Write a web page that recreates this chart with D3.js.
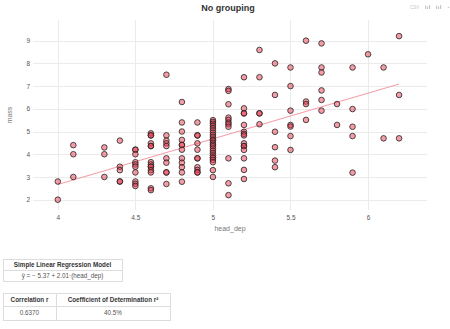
<!DOCTYPE html>
<html>
<head>
<meta charset="utf-8">
<script src="https://cdn.jsdelivr.net/npm/d3@7/dist/d3.min.js"></script>
<style>
  html, body { margin: 0; padding: 0; background: #fff; }
  svg { display: block; font-family: "Liberation Sans", Arial, sans-serif; }
</style>
</head>
<body>
<svg id="chart" width="450" height="329"></svg>
<script>
// Observations: head_dep (x) with the measured values at each x
const headDep = [
  4.0, 4.0,
  4.1, 4.1, 4.1,
  4.3, 4.3, 4.3,
  4.4, 4.4, 4.4, 4.4, 4.4,
  4.5, 4.5, 4.5, 4.5, 4.5, 4.5, 4.5, 4.5, 4.5, 4.5,
  4.6, 4.6, 4.6, 4.6, 4.6, 4.6, 4.6, 4.6, 4.6, 4.6, 4.6, 4.6, 4.6, 4.6,
  4.7, 4.7, 4.7, 4.7, 4.7, 4.7, 4.7, 4.7, 4.7, 4.7,
  4.8, 4.8, 4.8, 4.8, 4.8, 4.8, 4.8, 4.8, 4.8, 4.8, 4.8, 4.8,
  4.9, 4.9, 4.9, 4.9, 4.9, 4.9, 4.9, 4.9, 4.9, 4.9, 4.9,
  5.0, 5.0, 5.0, 5.0, 5.0, 5.0, 5.0, 5.0, 5.0, 5.0, 5.0, 5.0, 5.0, 5.0, 5.0, 5.0, 5.0, 5.0, 5.0, 5.0, 5.0, 5.0, 5.0, 5.0,
  5.1, 5.1, 5.1, 5.1, 5.1, 5.1, 5.1, 5.1, 5.1, 5.1, 5.1,
  5.2, 5.2, 5.2, 5.2, 5.2, 5.2, 5.2, 5.2, 5.2, 5.2, 5.2, 5.2, 5.2, 5.2, 5.2,
  5.3, 5.3, 5.3, 5.3, 5.3,
  5.4, 5.4, 5.4, 5.4, 5.4, 5.4,
  5.5, 5.5, 5.5, 5.5, 5.5, 5.5, 5.5,
  5.6, 5.6, 5.6, 5.6,
  5.7, 5.7, 5.7, 5.7, 5.7, 5.7,
  5.8, 5.8,
  5.9, 5.9, 5.9, 5.9, 5.9,
  6.0,
  6.1, 6.1,
  6.2, 6.2, 6.2
];
const response = [
  2.8, 2.0,
  4.4, 4.0, 3.0,
  4.3, 4.0, 3.0,
  4.6, 3.45, 3.3, 2.8, 2.8,
  4.2, 4.2, 4.0, 3.65, 3.55, 3.45, 3.2, 2.8, 2.7, 2.6,
  4.92, 4.83, 4.83, 4.48, 4.36, 4.36, 3.65, 3.55, 3.45, 3.45, 3.3, 3.2, 2.5, 2.42,
  7.5, 4.83, 4.6, 4.48, 4.36, 3.82, 3.63, 3.2, 3.2, 2.69,
  6.3, 5.4, 5.0, 4.63, 4.41, 4.41, 4.2, 3.82, 3.63, 3.43, 3.2, 2.79,
  5.4, 4.83, 4.83, 4.48, 4.2, 3.82, 3.82, 3.43, 3.31, 3.2, 3.2,
  5.5, 5.42, 5.34, 5.25, 5.15, 5.05, 4.95, 4.85, 4.75, 4.65, 4.6, 4.5, 4.42, 4.35, 4.25, 4.15, 4.05, 3.95, 3.85, 3.85, 3.75, 3.65, 3.3, 3.0,
  6.87, 6.79, 6.2, 5.61, 5.51, 5.39, 5.32, 5.21, 3.82, 2.72, 2.2,
  7.39, 6.02, 5.8, 5.8, 5.29, 4.99, 4.9, 4.83, 4.48, 4.36, 4.36, 4.19, 3.82, 3.31, 2.91,
  8.59, 7.39, 5.8, 5.8, 5.32,
  8.0, 6.61, 4.99, 4.31, 3.72, 3.43,
  7.82, 7.0, 5.92, 5.29, 5.22, 4.8, 4.19,
  9.0, 6.32, 6.21, 5.51,
  8.88, 7.82, 7.6, 6.81, 6.39, 5.92,
  6.21, 5.29,
  7.82, 5.99, 5.21, 4.8, 3.19,
  8.4,
  7.82, 4.7,
  9.2, 6.61, 4.7
];

// Fitted model
const intercept = -5.37;
const slope = 2.01;
const correlationText = "0.6370";
const determinationText = "40.5%";

const xTicks = [4, 4.5, 5, 5.5, 6];
const yTicks = [2, 3, 4, 5, 6, 7, 8, 9];

const svg = d3.select("#chart");

const plot = { left: 33, right: 427, top: 20, bottom: 210 };

const x = d3.scaleLinear().domain([3.84, 6.38]).range([plot.left, plot.right]);
const y = d3.scaleLinear().domain([1.545, 9.91]).range([plot.bottom, plot.top]);

// Title
svg.append("text")
  .attr("x", 228).attr("y", 11)
  .attr("text-anchor", "middle")
  .attr("font-size", 9).attr("font-weight", "bold")
  .attr("fill", "#333")
  .text("No grouping");

// Small toolbar glyphs in the top-right corner
const tools = svg.append("g").attr("fill", "#c8c8c8");
tools.append("text").attr("x", 410).attr("y", 9).attr("font-size", 4.5).text("CSV");
[[425, 5.5], [436, 5.5]].forEach(([tx, ty]) => {
  tools.append("rect").attr("x", tx).attr("y", ty).attr("width", 1.2).attr("height", 3.5);
  tools.append("rect").attr("x", tx + 2).attr("y", ty + 1).attr("width", 1.2).attr("height", 2.5);
  tools.append("rect").attr("x", tx + 4).attr("y", ty - 0.5).attr("width", 1.2).attr("height", 4);
});
tools.append("circle").attr("cx", 448.5).attr("cy", 7.5).attr("r", 0.8);

// Grid lines
const grid = svg.append("g").attr("stroke", "#ebebeb").attr("stroke-width", 1);
grid.selectAll("line.v").data(xTicks).join("line")
  .attr("x1", d => Math.round(x(d)) + 0.5).attr("x2", d => Math.round(x(d)) + 0.5)
  .attr("y1", plot.top).attr("y2", plot.bottom);
grid.selectAll("line.h").data(yTicks).join("line")
  .attr("x1", plot.left).attr("x2", plot.right)
  .attr("y1", d => Math.round(y(d)) + 0.5).attr("y2", d => Math.round(y(d)) + 0.5);

// Axes (labels only, no domain lines)
const xAxis = svg.append("g")
  .attr("transform", `translate(0,${plot.bottom})`)
  .call(d3.axisBottom(x).tickValues(xTicks).tickSize(0).tickPadding(5).tickFormat(d3.format("")));
const yAxis = svg.append("g")
  .attr("transform", `translate(${plot.left},0)`)
  .call(d3.axisLeft(y).tickValues(yTicks).tickSize(0).tickPadding(3).tickFormat(d3.format("d")));
[xAxis, yAxis].forEach(g => {
  g.select(".domain").remove();
  g.selectAll("text").attr("font-size", 6.5).attr("fill", "#555")
    .attr("font-family", "'Liberation Sans', Arial, sans-serif");
});

// Axis titles
svg.append("text")
  .attr("x", (plot.left + plot.right) / 2).attr("y", 231)
  .attr("text-anchor", "middle")
  .attr("font-size", 7).attr("fill", "#777")
  .text("head_dep");
svg.append("text")
  .attr("transform", `translate(12,${(plot.top + plot.bottom) / 2}) rotate(-90)`)
  .attr("text-anchor", "middle")
  .attr("font-size", 7).attr("fill", "#777")
  .text("mass");

// Regression line across the observed head_dep range
const xExtent = d3.extent(headDep);
svg.append("line")
  .attr("x1", x(xExtent[0])).attr("y1", y(intercept + slope * xExtent[0]))
  .attr("x2", x(xExtent[1])).attr("y2", y(intercept + slope * xExtent[1]))
  .attr("stroke", "#f4a0aa").attr("stroke-width", 1.1);

// Points
const points = headDep.map((v, i) => ({ x: v, y: response[i] }));
svg.append("g").selectAll("circle").data(points).join("circle")
  .attr("cx", d => x(d.x)).attr("cy", d => y(d.y))
  .attr("r", 2.8)
  .attr("fill", "#ee3a50").attr("fill-opacity", 0.5)
  .attr("stroke", "#222").attr("stroke-width", 0.8);

// Summary tables
function drawTable(g, cells, rows, colEdges) {
  // rows: array of [top, bottom]; cells: [{row, col, text, bold}]
  const left = colEdges[0], right = colEdges[colEdges.length - 1];
  g.append("rect")
    .attr("x", left + 0.5).attr("y", rows[0][0] + 0.5)
    .attr("width", right - left).attr("height", rows[rows.length - 1][1] - rows[0][0])
    .attr("fill", "none").attr("stroke", "#dcdcdc");
  rows.slice(1).forEach(r => {
    g.append("line").attr("x1", left).attr("x2", right)
      .attr("y1", r[0] + 0.5).attr("y2", r[0] + 0.5).attr("stroke", "#dcdcdc");
  });
  colEdges.slice(1, -1).forEach(cx => {
    g.append("line").attr("x1", cx + 0.5).attr("x2", cx + 0.5)
      .attr("y1", rows[0][0]).attr("y2", rows[rows.length - 1][1]).attr("stroke", "#dcdcdc");
  });
  cells.forEach(c => {
    const cx = (colEdges[c.col] + colEdges[c.col + 1]) / 2;
    const cy = (rows[c.row][0] + rows[c.row][1]) / 2;
    g.append("text")
      .attr("x", cx).attr("y", cy).attr("dy", "0.35em")
      .attr("text-anchor", "middle")
      .attr("font-size", 6.3)
      .attr("font-weight", c.bold ? "bold" : "normal")
      .attr("fill", c.bold ? "#333" : "#555")
      .text(c.text);
  });
}

const modelTable = svg.append("g");
drawTable(modelTable, [
  { row: 0, col: 0, text: "Simple Linear Regression Model", bold: true },
  { row: 1, col: 0, text: `ŷ = − ${Math.abs(intercept).toFixed(2)} + ${slope.toFixed(2)}·(head_dep)`, bold: false }
], [[259, 270], [270, 281]], [3, 122]);

const corrTable = svg.append("g");
drawTable(corrTable, [
  { row: 0, col: 0, text: "Correlation r", bold: true },
  { row: 0, col: 1, text: "Coefficient of Determination r²", bold: true },
  { row: 1, col: 0, text: correlationText, bold: false },
  { row: 1, col: 1, text: determinationText, bold: false }
], [[293, 306], [306, 320]], [3, 56, 170]);
</script>
</body>
</html>
